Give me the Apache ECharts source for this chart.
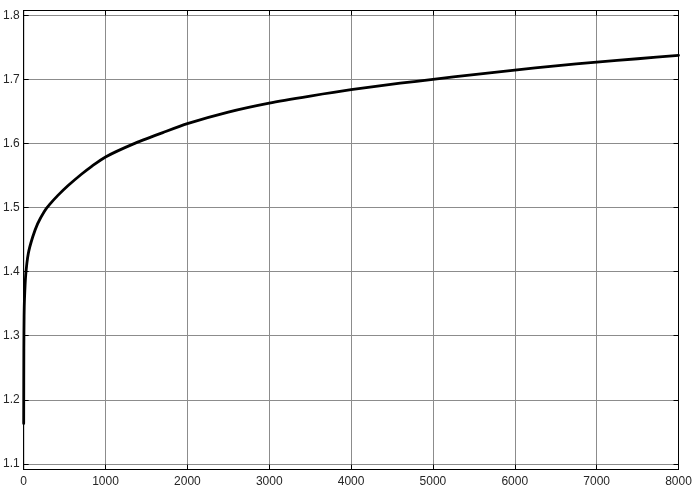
<!DOCTYPE html>
<html>
<head>
<meta charset="utf-8">
<script src="https://cdn.jsdelivr.net/npm/echarts@6/dist/echarts.min.js"></script>
<style>
html,body{margin:0;padding:0;background:#fff;}
#chart{width:700px;height:495px;}
</style>
</head>
<body>
<div id="chart"></div>
<script>
const xValues = [0, 2, 5, 10, 25, 56, 110, 171, 252, 315, 418, 540, 705, 827, 1000, 1335, 1700, 2000, 2500, 3000, 3500, 4000, 4600, 5000, 5500, 6000, 6500, 7000, 7500, 8000];
const yValues = [1.163, 1.28, 1.33, 1.358, 1.395, 1.428, 1.454, 1.475, 1.494, 1.5045, 1.519, 1.534, 1.552, 1.564, 1.579, 1.599, 1.617, 1.631, 1.649, 1.663, 1.674, 1.684, 1.694, 1.700, 1.7075, 1.7145, 1.721, 1.727, 1.7322, 1.7375];
const xRange = [0, 8000];
const yRange = [1.0912, 1.8075];

const seriesData = xValues.map((x, i) => [x, yValues[i]]);
const textStyle = {color: '#262626', fontSize: 12, fontFamily: 'Liberation Sans, Arial, sans-serif'};
const gridLine = {show: true, lineStyle: {color: '#8c8c8c', width: 1}};
const frameLine = {show: true, onZero: false, lineStyle: {color: '#000', width: 1}};
const tickIn = {show: true, inside: true, length: 5, lineStyle: {color: '#000', width: 1}};

const chart = echarts.init(document.getElementById('chart'), null, {renderer: 'canvas'});
chart.setOption({
  animation: false,
  backgroundColor: '#fff',
  grid: {left: 22.5, right: 21.5, top: 10.5, bottom: 25.5, show: true, borderColor: '#000', borderWidth: 1, containLabel: false},
  xAxis: [
    {type: 'value', position: 'bottom', min: xRange[0], max: xRange[1], interval: 1000,
     axisLine: frameLine, axisTick: tickIn, splitLine: gridLine,
     axisLabel: Object.assign({margin: 6, formatter: v => String(v)}, textStyle)},
    {type: 'value', position: 'top', min: xRange[0], max: xRange[1], interval: 1000,
     axisLine: frameLine, axisTick: tickIn, splitLine: {show: false}, axisLabel: {show: false}}
  ],
  yAxis: [
    {type: 'value', position: 'left', min: yRange[0], max: yRange[1], splitNumber: 7, minInterval: 0.1, maxInterval: 0.1,
     axisLine: frameLine, axisTick: tickIn, splitLine: gridLine,
     axisLabel: Object.assign({margin: 4, showMinLabel: false, showMaxLabel: false}, textStyle)},
    {type: 'value', position: 'right', min: yRange[0], max: yRange[1], splitNumber: 7, minInterval: 0.1, maxInterval: 0.1,
     axisLine: frameLine, axisTick: tickIn, splitLine: {show: false}, axisLabel: {show: false}}
  ],
  series: [{
    type: 'line',
    data: seriesData,
    xAxisIndex: 0, yAxisIndex: 0,
    showSymbol: false,
    smooth: 0.25,
    lineStyle: {color: '#000', width: 2.8, join: 'round', cap: 'round'},
    z: 5
  }]
});
</script>
</body>
</html>
